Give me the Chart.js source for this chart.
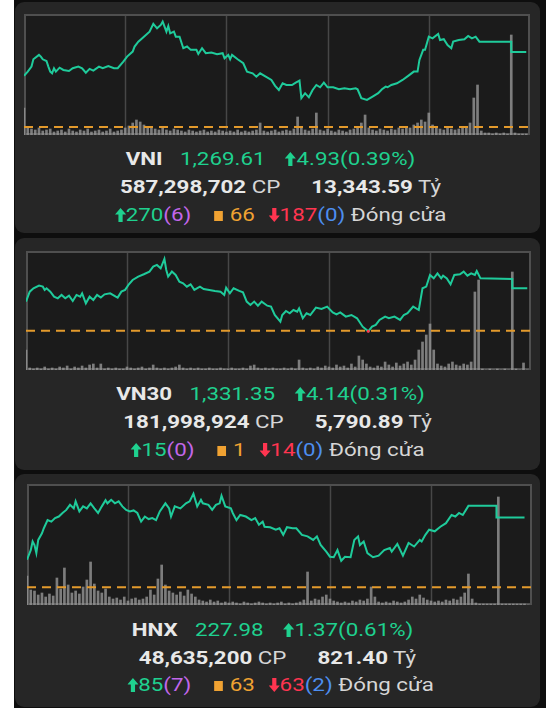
<!DOCTYPE html>
<html><head><meta charset="utf-8">
<script src="https://cdn.jsdelivr.net/npm/chart.js@4/dist/chart.umd.min.js"></script>
<style>
html,body{margin:0;padding:0;background:#fff;width:554px;height:708px;overflow:hidden;font-family:Roboto,"Noto Sans",sans-serif;}
#wrap{position:absolute;left:14px;top:0;width:532px;height:708px;background:#0e0e0e;}
.panel{position:absolute;left:15px;width:525px;background:#262626;border-radius:9px;}
canvas{position:absolute;background:#1b1b1b;}
.ln{position:absolute;left:15px;width:525px;text-align:center;font-size:18px;line-height:20px;height:20px;color:#d6d6d6;white-space:nowrap;transform:scaleX(1.24);transform-origin:50% 50%;}
.ln.h{left:8px;}
.b{font-weight:700;color:#e8e8e8;}
.g{color:#1fd18f;}
.p{color:#c266ea;}
.o{color:#f0a232;}
.r{color:#ff3550;}
.bl{color:#4d8ef0;}
.sq{display:inline-block;width:7px;height:10px;background:#f0a232;margin-right:6px;vertical-align:0px;}
svg{vertical-align:-1px;}
</style></head><body>
<div id="wrap"></div>
<div class="panel" style="top:2px;height:231px"></div>
<div class="panel" style="top:238px;height:232px"></div>
<div class="panel" style="top:474px;height:233px"></div>

<canvas id="c1" width="506" height="121" style="left:24px;top:14px"></canvas>
<canvas id="c2" width="505" height="119" style="left:26px;top:251px"></canvas>
<canvas id="c3" width="505" height="121" style="left:27px;top:484px"></canvas>

<div class="ln h" style="top:149px"><span class="b">VNI</span><span class="g" style="margin-left:14px">1,269.61</span><span class="g" style="margin-left:16px"><svg width="9" height="14" viewBox="0 0 9 14"><path d="M4.5 0L9 6.5H6.2V14H2.8V6.5H0Z" fill="#1fd18f"/></svg>4.93(0.39%)</span></div>
<div class="ln" style="top:177px;left:18px"><span class="b">587,298,702</span> CP<span class="b" style="margin-left:25px">13,343.59</span> Tỷ</div>
<div class="ln" style="top:205px;left:18px"><svg width="9" height="14" viewBox="0 0 9 14"><path d="M4.5 0L9 6.5H6.2V14H2.8V6.5H0Z" fill="#1fd18f"/></svg><span class="g">270</span><span class="p">(6)</span><span class="sq" style="margin-left:18px"></span><span class="o">66</span><svg style="margin-left:11px" width="9" height="14" viewBox="0 0 9 14"><path d="M4.5 14L9 7.5H6.2V0H2.8V7.5H0Z" fill="#ff3550"/></svg><span class="r">187</span><span class="bl">(0)</span> Đóng cửa</div>

<div class="ln h" style="top:384px"><span class="b">VN30</span><span class="g" style="margin-left:14px">1,331.35</span><span class="g" style="margin-left:16px"><svg width="9" height="14" viewBox="0 0 9 14"><path d="M4.5 0L9 6.5H6.2V14H2.8V6.5H0Z" fill="#1fd18f"/></svg>4.14(0.31%)</span></div>
<div class="ln" style="top:412px"><span class="b">181,998,924</span> CP<span class="b" style="margin-left:25px">5,790.89</span> Tỷ</div>
<div class="ln" style="top:440px"><svg width="9" height="14" viewBox="0 0 9 14"><path d="M4.5 0L9 6.5H6.2V14H2.8V6.5H0Z" fill="#1fd18f"/></svg><span class="g">15</span><span class="p">(0)</span><span class="sq" style="margin-left:18px"></span><span class="o">1</span><svg style="margin-left:11px" width="9" height="14" viewBox="0 0 9 14"><path d="M4.5 14L9 7.5H6.2V0H2.8V7.5H0Z" fill="#ff3550"/></svg><span class="r">14</span><span class="bl">(0)</span> Đóng cửa</div>

<div class="ln h" style="top:620px;left:10px"><span class="b">HNX</span><span class="g" style="margin-left:14px">227.98</span><span class="g" style="margin-left:16px"><svg width="9" height="14" viewBox="0 0 9 14"><path d="M4.5 0L9 6.5H6.2V14H2.8V6.5H0Z" fill="#1fd18f"/></svg>1.37(0.61%)</span></div>
<div class="ln" style="top:648px"><span class="b">48,635,200</span> CP<span class="b" style="margin-left:25px">821.40</span> Tỷ</div>
<div class="ln" style="top:675px;left:18px"><svg width="9" height="14" viewBox="0 0 9 14"><path d="M4.5 0L9 6.5H6.2V14H2.8V6.5H0Z" fill="#1fd18f"/></svg><span class="g">85</span><span class="p">(7)</span><span class="sq" style="margin-left:18px"></span><span class="o">63</span><svg style="margin-left:11px" width="9" height="14" viewBox="0 0 9 14"><path d="M4.5 14L9 7.5H6.2V0H2.8V7.5H0Z" fill="#ff3550"/></svg><span class="r">63</span><span class="bl">(2)</span> Đóng cửa</div>

<script>
// ---- time axis (session minutes) ----
const gridTimes = [54, 108, 162, 216];

// ---- VNI ----
const vniTimes = [0,2,4,5,8,9,10,12,13,14,15,16,17,19,21,24,26,29,31,33,35,37,40,42,45,48,50,53,55,58,59,61,64,67,69,71,73,74,76,77,78,80,81,83,85,87,89,92,93,95,97,100,103,106,107,109,110,111,114,117,119,122,124,126,129,132,134,136,138,140,143,145,147,148,150,152,154,156,158,160,162,165,168,171,174,177,178,180,183,186,189,191,193,194,196,199,202,205,208,210,211,213,214,216,218,221,222,224,226,228,229,232,235,237,239,241,243,244,260,260,268];
const vniValues = [1268.04,1268.32,1268.65,1269.13,1269.42,1269.31,1269.13,1269.02,1268.65,1268.32,1268.21,1268.54,1268.32,1268.58,1268.43,1268.36,1268.54,1268.65,1268.54,1268.25,1268.50,1268.39,1268.65,1268.54,1268.69,1268.54,1268.54,1268.98,1269.31,1269.64,1269.97,1270.29,1270.62,1270.95,1271.46,1271.17,1271.39,1271.61,1270.95,1271.32,1270.84,1270.95,1270.62,1270.62,1269.86,1269.97,1269.75,1269.75,1269.48,1269.86,1269.53,1269.57,1269.46,1269.53,1269.20,1269.42,1269.13,1269.42,1269.13,1268.87,1268.32,1268.21,1267.99,1268.21,1267.99,1267.77,1267.38,1267.11,1267.55,1267.44,1267.44,1267.60,1267.73,1266.57,1266.90,1266.63,1267.11,1267.44,1267.29,1267.60,1267.29,1267.29,1267.16,1267.22,1267.16,1267.22,1267.16,1266.57,1266.46,1266.68,1266.90,1267.16,1267.33,1267.29,1267.44,1267.55,1267.77,1268.04,1268.32,1268.32,1269.09,1269.75,1269.75,1270.62,1270.51,1270.80,1270.40,1270.45,1270.07,1269.86,1270.29,1270.40,1270.45,1270.67,1270.51,1270.62,1270.29,1270.29,1270.29,1269.61,1269.61];
const vniVolume = [27,8,6,5,7,4,5,6,3,4,5,3,6,4,3,5,4,6,3,4,5,3,4,6,3,4,5,7,9,12,15,13,10,8,7,6,5,7,5,4,6,5,4,3,5,4,3,4,5,3,4,3,5,4,3,4,3,5,3,4,3,4,5,12,4,3,4,5,3,4,5,4,6,18,8,5,4,6,22,5,4,6,4,3,5,4,3,5,6,8,12,20,7,5,4,6,5,4,6,5,7,6,8,7,10,12,15,13,22,10,8,6,5,7,6,5,6,7,8,12,37,50,4,2,2,1,2,1,2,1,100,2,1,1,1];
const vniRef = 1264.68;

// ---- VN30 ----
const vn30Times = [0,2,4,7,9,10,11,13,15,17,19,21,23,25,27,29,30,32,34,36,38,40,42,45,48,49,51,53,55,57,60,63,66,68,70,72,74,75,76,78,80,82,84,86,88,90,93,95,98,101,104,106,107,109,111,114,116,118,120,122,124,126,129,131,133,136,137,139,141,143,145,146,148,150,152,155,158,161,164,166,168,171,174,177,180,183,185,187,189,192,194,197,200,202,204,207,210,212,214,216,218,220,222,223,225,227,229,232,234,236,238,240,241,243,260,260,268];
const vn30Values = [1330.05,1331.02,1331.35,1331.61,1331.51,1331.19,1331.35,1331.02,1330.53,1330.37,1330.70,1330.37,1330.63,1330.11,1330.70,1330.53,1330.86,1329.88,1330.53,1330.21,1330.70,1330.44,1330.76,1330.86,1330.53,1330.44,1331.02,1331.19,1331.74,1332.16,1332.49,1332.72,1332.98,1333.46,1333.63,1333.30,1334.21,1333.14,1332.49,1332.98,1332.65,1332.00,1331.84,1331.51,1331.74,1331.19,1331.51,1331.28,1331.19,1331.09,1331.02,1330.70,1331.41,1330.86,1331.35,1331.09,1330.96,1330.05,1329.72,1330.05,1329.65,1330.05,1329.65,1329.56,1328.74,1328.09,1328.74,1329.13,1328.91,1329.23,1329.07,1329.39,1328.42,1328.91,1328.74,1329.46,1329.33,1329.56,1329.00,1328.81,1329.00,1328.58,1328.74,1328.42,1327.60,1327.15,1327.60,1327.77,1328.26,1328.58,1328.42,1328.58,1328.26,1328.74,1328.91,1329.56,1329.23,1331.35,1331.51,1332.65,1332.32,1332.81,1332.32,1332.58,1332.32,1331.74,1332.65,1332.72,1332.98,1332.58,1332.81,1332.65,1333.04,1332.32,1332.26,1331.35,1331.35];
const vn30Volume = [20,2,1,2,1,3,1,2,1,3,2,4,1,3,2,4,2,5,6,2,6,1,2,1,2,1,1,3,2,1,2,3,1,2,5,2,1,2,1,2,3,5,2,1,2,1,2,1,1,2,1,1,2,1,1,2,1,1,2,1,4,5,2,1,2,1,2,1,1,2,1,2,1,10,2,1,2,1,3,2,4,3,2,5,3,4,2,6,3,14,10,6,3,2,4,3,8,5,3,7,4,6,8,5,10,20,28,35,46,20,6,4,3,6,8,5,4,6,5,8,78,90,1,0,1,0,1,0,1,0,98,1,0,7,0];
const vn30Ref = 1327.21;

// ---- HNX ----
const hnxTimes = [0,2,3,4,5,6,8,9,11,13,15,17,19,21,23,25,26,28,30,32,34,36,38,40,42,43,45,47,49,51,53,55,57,59,61,63,65,67,69,71,74,76,77,79,82,85,87,89,91,93,94,97,99,101,103,104,106,109,110,112,114,117,120,122,124,126,127,130,133,135,137,139,142,144,147,150,153,155,157,160,162,164,166,168,170,173,175,177,178,180,182,185,188,191,194,195,198,201,204,207,210,211,213,215,218,221,224,227,229,231,233,236,251,251,266];
const hnxValues = [227.15,227.34,227.51,227.44,227.28,227.54,227.67,227.77,227.93,227.90,227.97,228.00,228.07,228.13,228.23,228.16,228.30,228.10,228.20,228.16,228.26,228.16,228.07,228.20,228.32,228.26,228.33,228.26,228.30,228.20,228.13,228.10,228.12,228.07,227.90,228.00,227.95,227.97,227.93,228.10,228.26,228.16,228.00,228.20,228.16,228.26,228.30,228.45,228.20,228.33,228.26,228.23,228.13,228.23,228.26,228.41,228.20,228.16,228.07,227.93,228.03,228.00,227.93,227.97,227.84,227.90,227.80,227.79,227.74,227.77,227.64,227.79,227.77,227.77,227.64,227.61,227.54,227.61,227.44,227.31,227.21,227.20,227.34,227.13,227.21,227.20,227.54,227.61,227.44,227.51,227.28,227.20,227.23,227.34,227.38,227.31,227.46,227.23,227.48,227.41,227.54,227.51,227.64,227.74,227.71,227.80,227.87,228.03,228.00,228.07,228.03,228.21,228.21,227.98,227.98];
const hnxVolume = [29,15,14,10,12,8,11,9,27,16,37,20,12,14,11,18,25,43,21,14,12,16,8,6,7,5,8,4,6,7,5,6,8,15,10,26,40,20,14,12,10,13,9,15,11,8,5,4,3,5,3,4,2,3,2,3,2,1,3,2,1,2,3,2,1,2,1,2,3,1,2,1,2,3,5,33,4,6,5,8,10,6,4,3,2,3,2,4,3,5,4,6,18,8,3,2,3,2,4,3,2,3,5,8,6,10,7,5,4,3,4,3,5,4,6,5,8,12,31,6,2,1,1,1,1,1,108,1,1,1,1,1,1,1,0];
const hnxRef = 226.61;

const GREEN = '#1fcb9b', RED = '#ff3550';

const frame = {
  id: 'frame',
  beforeDatasetsDraw(chart) {
    const {ctx, chartArea: a, scales: {x}} = chart;
    ctx.save();
    ctx.strokeStyle = '#474747';
    ctx.lineWidth = 1.5;
    gridTimes.forEach(t => {
      const px = Math.round(x.getPixelForValue(t)) + 0.5;
      ctx.beginPath(); ctx.moveTo(px, a.top); ctx.lineTo(px, a.bottom); ctx.stroke();
    });
    ctx.lineWidth = 2;
    ctx.strokeStyle = '#4f4f4f';
    ctx.strokeRect(a.left + 1, a.top + 1, a.width - 2, a.height - 2);
    ctx.restore();
  }
};

function build(id, times, values, vols, ref, yMin, yMax, volMax) {
  const line = times.map((t, i) => ({x: t, y: values[i]}));
  const bars = vols.map((v, i) => ({x: i * 2, y: v}));
  new Chart(document.getElementById(id), {
    type: 'line',
    data: {datasets: [
      {type: 'line', data: line, borderColor: GREEN, borderWidth: 2, tension: 0, yAxisID: 'y', order: 0,
       pointRadius: c => (c.raw && c.raw.y < ref) ? 1.5 : 0, pointBorderWidth: 0, pointBackgroundColor: RED},
      {type: 'line', data: [{x: 0, y: ref}, {x: 270, y: ref}], borderColor: '#e39a2c', borderWidth: 2, borderDash: [9, 6], pointRadius: 0, yAxisID: 'y', order: 1},
      {type: 'bar', data: bars, backgroundColor: 'rgba(150,150,150,0.8)', barThickness: 2, yAxisID: 'v', order: 2}
    ]},
    options: {
      responsive: false, animation: false, devicePixelRatio: 1,
      layout: {padding: 0},
      plugins: {legend: {display: false}, tooltip: {enabled: false}},
      scales: {
        x: {type: 'linear', min: 0, max: 270, display: false, offset: false},
        y: {display: false, min: yMin, max: yMax},
        v: {display: false, min: 0, max: volMax}
      }
    },
    plugins: [frame]
  });
}

build('c1', vniTimes, vniValues, vniVolume, vniRef, 1264.15, 1272.11, 121);
build('c2', vn30Times, vn30Values, vn30Volume, vn30Ref, 1323.37, 1334.99, 119);
build('c3', hnxTimes, hnxValues, hnxVolume, hnxRef, 226.26, 228.64, 121);
</script>
</body></html>
